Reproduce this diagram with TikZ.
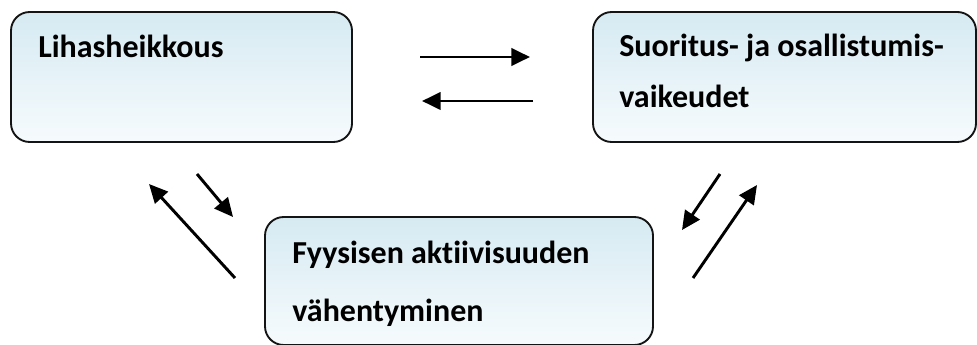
\documentclass[tikz,border=0pt]{standalone}
\usepackage{fontspec}
\setmainfont{Carlito}[Ligatures=NoCommon]
\usetikzlibrary{arrows.meta,fit}
\definecolor{boxtop}{RGB}{214,234,242}
\definecolor{boxbot}{RGB}{246,251,253}
\definecolor{boxline}{RGB}{20,20,20}
\tikzset{
  box/.style={draw=boxline, line width=1.4pt, rounded corners=14pt, top color=boxtop, bottom color=boxbot, inner sep=0pt},
  lbl/.style={anchor=base west, inner sep=0pt, font=\fontsize{24}{28}\selectfont\bfseries},
  arr/.style={line width=2.2pt, -{Triangle[length=14pt,width=13pt]}}
}
\begin{document}
\begin{tikzpicture}[x=0.75pt,y=-0.75pt]
\useasboundingbox (0,0) rectangle (977,345);
% boxes
\node[box, fit={(11,12)(352,142)}] (b1) {};
\node[box, fit={(593,12)(976,142)}] (b2) {};
\node[box, fit={(265,217)(653,345)}] (b3) {};
% texts
\node[lbl] (t1) at (38,58) {Lihasheikkous};
\node[lbl] (t2a) at (619,57) {Suoritus- ja osallistumis-};
\node[lbl] (t2b) at (619,108) {vaikeudet};
\node[lbl] (t3a) at (292,263) {Fyysisen aktiivisuuden};
\node[lbl] (t3b) at (292,321) {vähentyminen};
% arrow endpoints
\coordinate (a1s) at (420,57);  \coordinate (a1e) at (530,57);
\coordinate (a2s) at (533,101); \coordinate (a2e) at (422,101);
\coordinate (a3s) at (197,174); \coordinate (a3e) at (233,217);
\coordinate (a4s) at (235,278); \coordinate (a4e) at (149,184);
\coordinate (a5s) at (720,174); \coordinate (a5e) at (682,230);
\coordinate (a6s) at (693,278); \coordinate (a6e) at (757,185);
\draw[arr] (a1s) -- (a1e);
\draw[arr] (a2s) -- (a2e);
\draw[arr] (a3s) -- (a3e);
\draw[arr] (a4s) -- (a4e);
\draw[arr] (a5s) -- (a5e);
\draw[arr] (a6s) -- (a6e);
\end{tikzpicture}
\end{document}
